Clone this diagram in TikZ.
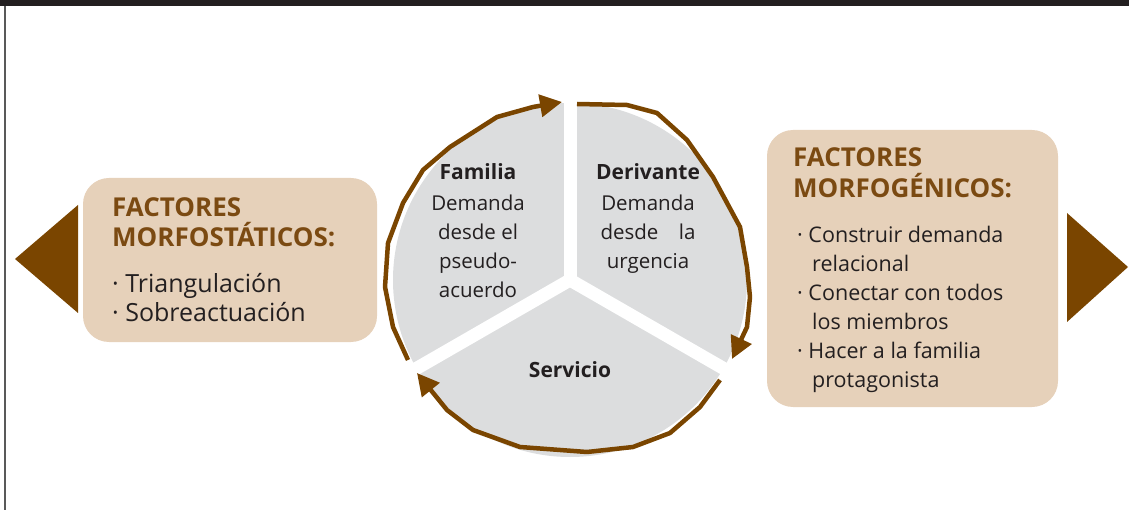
\documentclass[tikz,border=0pt]{standalone}
\usepackage{fontspec}
\setmainfont{Open Sans}
\usetikzlibrary{arrows.meta, positioning}
\definecolor{barra}{HTML}{231F20}
\definecolor{cafe}{HTML}{7A4500}
\definecolor{titulo}{HTML}{7B4A12}
\definecolor{caja}{HTML}{E6D1BA}
\definecolor{torta}{HTML}{DCDDDE}
\definecolor{texto}{HTML}{231F20}
\tikzset{
    factorbox/.style={fill=caja, rounded corners=26pt, inner sep=0pt},
    head/.style={font=\fontsize{26}{30}\selectfont\bfseries, text=titulo, inner sep=0pt, anchor=base west},
    item/.style={font=\fontsize{25}{29}\selectfont, text=texto, inner sep=0pt, anchor=base west},
    itemr/.style={item, font=\fontsize{21.5}{29}\selectfont},
    sector/.style={font=\fontsize{20.5}{29}\selectfont, text=texto, inner sep=0pt, anchor=base},
    sectorhead/.style={sector, font=\fontsize{21}{29}\selectfont\bfseries},
    ciclo/.style={draw=cafe, line width=4.5pt, line join=round, -{Triangle[length=22pt,width=22pt]}},
    corte/.style={draw=white, line width=13pt},
}

\begin{document}
\begin{tikzpicture}[x=1pt, y=-1pt]
    \useasboundingbox (0,0) rectangle (1129,510);

    % frame
    \fill[barra] (0,0) rectangle (1129,6);
    \draw[black!65, line width=1.5pt] (5,6) -- (5,510);

    % side boxes and arrows
    \node[factorbox, minimum width=294pt, minimum height=164pt] (estaticos) at (230,260) {};
    \node[factorbox, minimum width=291pt, minimum height=277pt] (genicos) at (912.5,268.5) {};
    \fill[cafe] (15,259) -- (78,205) -- (78,313) -- cycle;
    \fill[cafe] (1128,267) -- (1067,213) -- (1067,322) -- cycle;

    % pie
    \coordinate (centro) at (570,280);
    \coordinate (g1) at (570,97);
    \coordinate (g2) at (412,371);
    \coordinate (g3) at (728,371);
    \fill[torta] (centro) circle (177pt);
    \foreach \g in {g1,g2,g3}
    {
        \draw[corte] (centro) -- (\g);
    }

    % cycle arrows
    \draw[ciclo] (408,360) -- (393,327) -- (385,287) -- (388,243) -- (403,203)
        -- (423,170) -- (450,147) -- (497,117) -- (533,107) -- (562,102);
    \draw[ciclo] (577,104) -- (627,105) -- (657,113) -- (687,140) -- (713,177)
        -- (740,227) -- (747,267) -- (750,297) -- (747,327) -- (732,359);
    \draw[ciclo] (720,380) -- (700,407) -- (670,433) -- (633,447) -- (587,452)
        -- (520,447) -- (473,430) -- (447,410) -- (417,373);

    % sector texts
    \node[sectorhead] (familia) at (478,180) {Familia};
    \foreach \n/\y/\t in {fa1/211/Demanda, fa2/240/desde el, fa3/269/pseudo-, fa4/298/acuerdo}
    {
        \node[sector] (\n) at (478,\y) {\t};
    }
    \node[sectorhead] (derivante) at (648,180) {Derivante};
    \node[sector] (de1) at (648,211) {Demanda};
    \node[sector] (de2) at (648,240) {\makebox[95pt][s]{desde la}};
    \node[sector] (de3) at (648,269) {urgencia};
    \node[sectorhead] (servicio) at (570,377) {Servicio};

    % left box texts
    \node[head] (lh1) at (112,217) {FACTORES};
    \node[head] (lh2) at (112,247) {MORFOSTÁTICOS:};
    \foreach \n/\y/\t in {li1/293/Triangulación, li2/322/Sobreactuación}
    {
        \node[item] (\n) at (112,\y) {· \t};
    }

    % right box texts
    \node[head] (rh1) at (793,167) {FACTORES};
    \node[head] (rh2) at (793,198) {MORFOGÉNICOS:};
    \foreach \n/\y/\t in {ri1/243/Construir demanda, ri3/301/Conectar con todos, ri5/358/Hacer a la familia}
    {
        \node[itemr] (\n) at (797,\y) {· \t};
    }
    \foreach \n/\y/\t in {ri2/272/relacional, ri4/330/los miembros, ri6/387/protagonista}
    {
        \node[itemr] (\n) at (812,\y) {\t};
    }
\end{tikzpicture}
\end{document}
